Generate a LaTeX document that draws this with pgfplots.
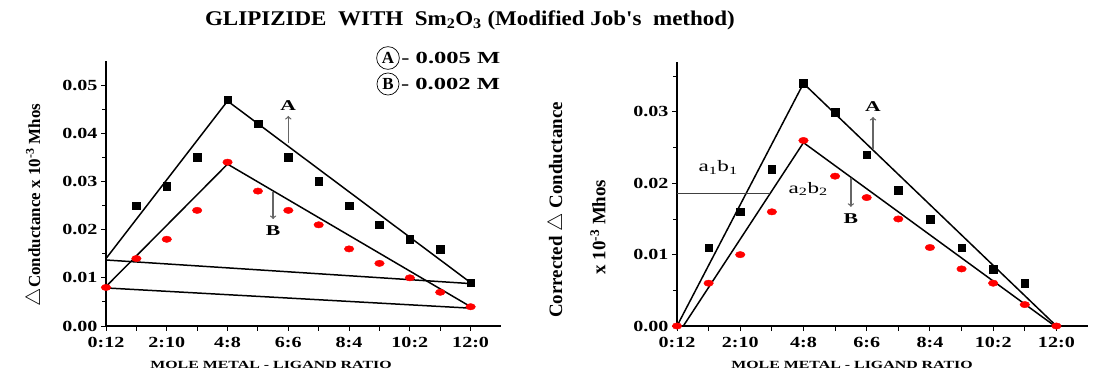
\documentclass[border=0pt]{standalone}
\usepackage{fontspec}
\setmainfont{Liberation Serif}
\newfontfamily\tickfont[FakeStretch=1.3]{Liberation Serif}
\newfontfamily\widefont[FakeStretch=1.45]{Liberation Serif}
\newfontfamily\titlefont[FakeStretch=1.1]{Liberation Serif}
\usepackage{pgfplots}
\pgfplotsset{compat=1.18}

\pgfplotsset{jobaxis/.style={
  scale only axis, anchor=south west, clip=false,
  axis x line=bottom, axis y line=left,
  axis line style={-, line width=1.6pt},
  xmin=0, xmax=13, ymin=0,
  xtick={0,1,2,3,4,5,6,7,8,9,10,11,12},
  xticklabels={0:12,,2:10,,4:8,,6:6,,8:4,,10:2,,12:0},
  tick align=outside, major tick length=5bp, minor tick length=4bp,
  every tick/.style={black, line width=0.9pt},
  ticklabel style={font=\tickfont\bfseries\fontsize{15.5}{15.5}\selectfont},
  scaled y ticks=false,
  xticklabel style={yshift=-3bp},
}}

\begin{document}
\begin{tikzpicture}
\path[use as bounding box] (0,0) rectangle (1098bp,375bp);

% ---------- left panel ----------
\begin{axis}[jobaxis, at={(106bp,49bp)}, width=395bp, height=265bp, ymax=0.055,
  ytick={0,0.01,0.02,0.03,0.04,0.05},
  yticklabels={0.00,0.01,0.02,0.03,0.04,0.05},
  minor ytick={0.005,0.015,0.025,0.035,0.045}]
\addplot[black, line width=1.5pt] coordinates {(0,0.0140) (4,0.0467) (12,0.0090)};
\addplot[black, line width=1.5pt] coordinates {(0,0.0082) (4,0.0336) (12,0.0040)};
\addplot[black, line width=1.5pt] coordinates {(0,0.0137) (12,0.0088)};
\addplot[black, line width=1.5pt] coordinates {(0,0.0079) (12,0.0037)};
\addplot[only marks, mark=square*, mark size=3.8bp, black] coordinates {
 (1,0.025) (2,0.029) (3,0.035) (4,0.047) (5,0.042) (6,0.035)
 (7,0.030) (8,0.025) (9,0.021) (10,0.018) (11,0.016) (12,0.009)};
\addplot[only marks, mark=*, mark size=3.2bp, red, mark options={xscale=1.5}] coordinates {
 (0,0.008) (1,0.014) (2,0.018) (3,0.024) (4,0.034) (5,0.028) (6,0.024)
 (7,0.021) (8,0.016) (9,0.013) (10,0.010) (11,0.007) (12,0.004)};
\draw[gray!80!black, line width=1.3pt, ->] (axis cs:6,0.0380) -- (axis cs:6,0.0436);
\node[font=\widefont\bfseries\fontsize{15}{15}\selectfont] at (axis cs:6,0.0458) {A};
\draw[gray!80!black, line width=1.3pt, ->] (axis cs:5.5,0.0278) -- (axis cs:5.5,0.0222);
\node[font=\widefont\bfseries\fontsize{15}{15}\selectfont] at (axis cs:5.5,0.0198) {B};
\end{axis}

% ---------- right panel ----------
\begin{axis}[jobaxis, at={(677bp,49bp)}, width=411bp, height=264bp, ymax=0.037,
  ytick={0,0.01,0.02,0.03},
  yticklabels={0.00,0.01,0.02,0.03},
  minor ytick={0.005,0.015,0.025,0.035}]
\addplot[black, line width=1.5pt] coordinates {(0,0) (4,0.0340) (12,0)};
\addplot[black, line width=1.5pt] coordinates {(0.2,0) (4,0.0257) (11.95,0)};
\addplot[black!75, line width=0.9pt] coordinates {(0,0.0186) (2.95,0.0186)};
\addplot[only marks, mark=square*, mark size=3.8bp, black] coordinates {
 (1,0.011) (2,0.016) (3,0.022) (4,0.034) (5,0.030) (6,0.024)
 (7,0.019) (8,0.015) (9,0.011) (10,0.008) (11,0.006)};
\addplot[only marks, mark=*, mark size=3.2bp, red, mark options={xscale=1.5}] coordinates {
 (0,0) (1,0.006) (2,0.010) (3,0.016) (4,0.026) (5,0.021) (6,0.018)
 (7,0.015) (8,0.011) (9,0.008) (10,0.006) (11,0.003) (12,0)};
\node[font=\widefont\fontsize{16}{16}\selectfont] at (axis cs:1.3,0.0222) {a\textsubscript{1}b\textsubscript{1}};
\node[font=\widefont\fontsize{16}{16}\selectfont] at (axis cs:4.15,0.0192) {a\textsubscript{2}b\textsubscript{2}};
\draw[gray!80!black, line width=1.3pt, ->] (axis cs:6.2,0.0248) -- (axis cs:6.2,0.0293);
\node[font=\widefont\bfseries\fontsize{15}{15}\selectfont] at (axis cs:6.2,0.0308) {A};
\draw[gray!80!black, line width=1.3pt, ->] (axis cs:5.5,0.0208) -- (axis cs:5.5,0.0167);
\node[font=\widefont\bfseries\fontsize{15}{15}\selectfont] at (axis cs:5.5,0.0151) {B};
\end{axis}

% ---------- texts ----------
\node[font=\titlefont\bfseries\fontsize{21}{21}\selectfont] at (470bp,355bp)
  {GLIPIZIDE \ WITH \ Sm\textsubscript{2}O\textsubscript{3} (Modified Job's \ method)};
\node[draw, circle, line width=0.7pt, inner sep=2.2pt, font=\bfseries\fontsize{17}{17}\selectfont] (cA) at (388bp,317bp) {A};
\node[anchor=west, inner sep=1.5pt, font=\widefont\bfseries\fontsize{17}{17}\selectfont] at (cA.east) {- 0.005 M};
\node[draw, circle, line width=0.7pt, inner sep=2.2pt, font=\bfseries\fontsize{17}{17}\selectfont] (cB) at (388bp,291bp) {B};
\node[anchor=west, inner sep=1.5pt, font=\widefont\bfseries\fontsize{17}{17}\selectfont] at (cB.east) {- 0.002 M};

\node[font=\widefont\bfseries\fontsize{11}{11}\selectfont] at (271bp,10bp) {MOLE METAL - LIGAND RATIO};
\node[font=\widefont\bfseries\fontsize{11}{11}\selectfont] at (852bp,10bp) {MOLE METAL - LIGAND RATIO};

\node[rotate=90, font=\bfseries\fontsize{17}{17}\selectfont] at (35bp,170bp)
  {{\huge$\triangle$}Conductance x 10\textsuperscript{-3} Mhos};
\node[rotate=90, font=\bfseries\fontsize{19}{19}\selectfont] at (557bp,165bp)
  {Corrected {\huge$\triangle$} Conductance};
\node[rotate=90, font=\bfseries\fontsize{19}{19}\selectfont] at (598bp,148bp)
  {x 10\textsuperscript{-3} Mhos};
\end{tikzpicture}
\end{document}
